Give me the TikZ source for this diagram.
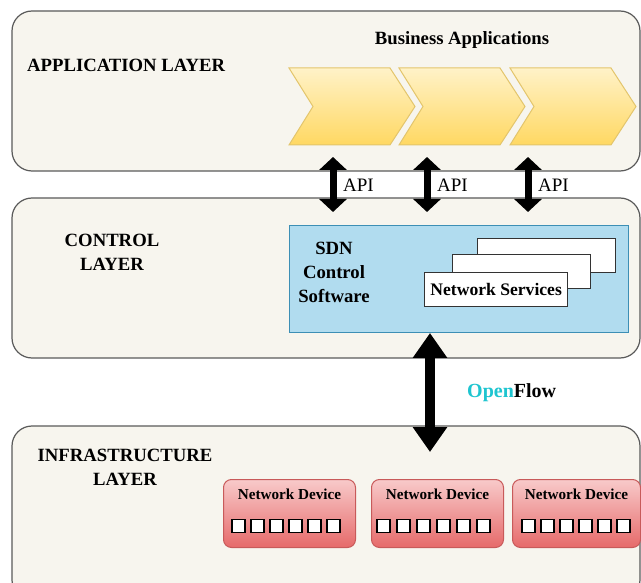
\documentclass[tikz,border=0pt]{standalone}
\usepackage{fontspec}
\setmainfont{Liberation Serif}
\usetikzlibrary{arrows.meta,positioning}

\definecolor{layerfill}{HTML}{F7F5EE}
\definecolor{layerline}{HTML}{5A5A5A}
\definecolor{chevtop}{HTML}{FFF2C8}
\definecolor{chevbot}{HTML}{FFD862}
\definecolor{chevline}{HTML}{E3C56C}
\definecolor{sdnfill}{HTML}{B1DCEF}
\definecolor{sdnline}{HTML}{3D8FB5}
\definecolor{devtop}{HTML}{F8CACA}
\definecolor{devbot}{HTML}{E66A6A}
\definecolor{devline}{HTML}{C85A5A}
\definecolor{opencyan}{HTML}{1EC5D0}

\tikzset{
  layerbox/.style={draw=layerline, fill=layerfill, line width=1.2pt, rounded corners=20pt},
  chevron/.style={draw=chevline, top color=chevtop, bottom color=chevbot, line width=1pt},
  label/.style={font=\fontsize{18.7}{24}\selectfont\bfseries, align=center, inner sep=0pt},
  apitext/.style={font=\fontsize{19}{20}\selectfont, inner sep=0pt, anchor=west},
  apiarrow/.style={line width=7pt, {Triangle[width=27pt,length=13pt]}-{Triangle[width=27pt,length=13pt]}},
  ofarrow/.style={line width=10pt, {Triangle[width=33pt,length=25pt]}-{Triangle[width=33pt,length=25pt]}},
  sdnbox/.style={draw=sdnline, fill=sdnfill, line width=1pt, anchor=north west, inner sep=0pt},
  service/.style={draw=black!80, fill=white, line width=1.3pt, anchor=north west, inner sep=0pt,
    minimum width=138pt, minimum height=34pt, font=\fontsize{17.6}{20}\selectfont\bfseries},
  device/.style={draw=devline, top color=devtop, bottom color=devbot, rounded corners=8pt,
    line width=1pt, anchor=north west, minimum height=68pt, inner sep=0pt},
  devtext/.style={font=\fontsize{15.2}{18}\selectfont\bfseries, inner sep=0pt},
  port/.style={draw=black, fill=white, line width=1.3pt, minimum size=13pt, inner sep=0pt}
}

\begin{document}
\begin{tikzpicture}[x=1pt,y=-1pt]
    \clip (0,0) rectangle (641,583);
    \fill[white] (0,0) rectangle (641,583);

    % layers
    \draw[layerbox] (12,11) rectangle (640,171);
    \draw[layerbox] (12,198) rectangle (640,358);
    \draw[layerbox] (12,426) rectangle (640,600);

    \node[label, anchor=west] (applabel) at (27,65) {APPLICATION LAYER};
    \node[label] (ctrllabel) at (112,252) {CONTROL\\LAYER};
    \node[label] (infralabel) at (125,467) {INFRASTRUCTURE\\LAYER};

    % business applications
    \node[label] (busapp) at (462,40) {Business Applications};
    \foreach \x in {289,399,510}
        \draw[chevron] (\x,68) -- ++(101,0) -- ++(25,38.5) -- ++(-25,38.5) -- ++(-101,0) -- ++(24,-38.5) -- cycle;

    % API arrows
    \foreach \x [count=\i] in {333,427,528} {
        \coordinate (apitop\i) at (\x,157);
        \coordinate (apibot\i) at (\x,212);
        \draw[apiarrow] (apitop\i) -- (apibot\i);
        \node[apitext] (api\i) at (\x+10,185) {API};
    }

    % control software
    \node[sdnbox, minimum width=339pt, minimum height=107pt] (sdn) at (289,225) {};
    \node[label] (sdnlabel) at (334,272) {SDN\\Control\\Software};
    \node[service] (serv3) at (477,238) {};
    \node[service] (serv2) at (452,254) {};
    \node[service, minimum width=143pt] (serv1) at (424,272) {Network Services};

    % openflow
    \coordinate (ofbot) at (430,452);
    \draw[ofarrow] (sdn.south -| ofbot) -- (ofbot);
    \node[label, anchor=west, font=\fontsize{20}{22}\selectfont\bfseries] (oflabel) at (467,393)
        {\textcolor{opencyan}{Open}Flow};

    % network devices
    \node[device, minimum width=132pt] (dev1) at (223,479) {};
    \node[device, minimum width=132pt] (dev2) at (371,479) {};
    \node[device, minimum width=128pt] (dev3) at (512,479) {};
    \foreach \d/\x/\s in {dev1/238.5/19, dev2/383.5/20, dev3/528.5/19} {
        \node[devtext] (\d text) at (\d.north |- 0,494) {Network Device};
        \foreach \i in {0,...,5}
            \node[port] (\d port\i) at (\x+\s*\i,526) {};
    }
\end{tikzpicture}
\end{document}
